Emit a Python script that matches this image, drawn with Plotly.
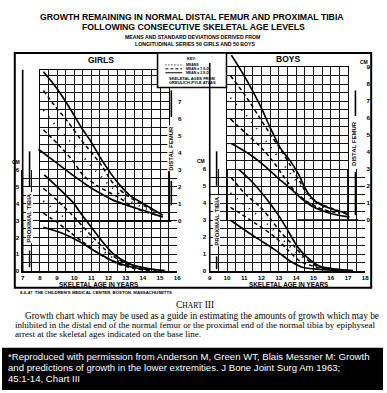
import plotly.graph_objects as go

W, H = 387, 393
SANS = "Liberation Sans, Arial, sans-serif"
SERIF = "Liberation Serif, Times New Roman, serif"

# ---------------- data ----------------
AGES_GIRLS = [7, 8, 9, 10, 11, 12, 13, 14, 15, 16]
AGES_BOYS = [9, 10, 11, 12, 13, 14, 15, 16, 17, 18]
TIBIA_CM = [0, 1, 2, 3, 4, 5, 6]
FEMUR_CM_GIRLS = [0, 1, 2, 3, 4, 5, 6, 7]
FEMUR_CM_BOYS = [0, 1, 2, 3, 4, 5, 6, 7, 8, 9]

# Girls distal femur
GF_P2_AGE = [8.21, 8.95, 9.64, 10.39, 10.97, 11.54, 12.11, 12.69, 13.26, 14.01, 15.16]
GF_P2_CM = [8.74, 7.82, 6.78, 5.52, 4.66, 3.68, 2.82, 2.07, 1.49, 1.03, 0.34]
GF_P1_AGE = [8.21, 8.84, 9.64, 10.39, 11.54, 12.29, 13.09, 13.84, 14.82]
GF_P1_CM = [7.64, 6.78, 5.80, 4.77, 3.33, 2.18, 1.49, 1.03, 0.52]
GF_M_AGE = [8.21, 9.0, 10.0, 11.0, 12.0, 13.0, 14.0, 15.0]
GF_M_CM = [6.5, 5.5, 4.4, 3.2, 2.15, 1.3, 0.8, 0.37]
GF_M1_AGE = [8.21, 9.07, 9.93, 10.56, 11.54, 12.69, 13.44, 14.82]
GF_M1_CM = [5.34, 4.48, 3.51, 2.64, 1.95, 1.32, 0.80, 0.34]
GF_M2_AGE = [7.92, 8.84, 9.82, 10.79, 11.54, 12.29, 13.09, 14.01, 15.16]
GF_M2_CM = [4.20, 3.51, 2.76, 2.07, 1.61, 1.21, 0.92, 0.63, 0.23]

# Girls proximal tibia
GT_P2_AGE = [8.26, 9.24, 9.98, 10.38, 11.0, 11.6, 12.3, 13.3, 14.5, 15.3]
GT_P2_CM = [5.70, 4.77, 4.01, 3.43, 2.6, 1.8, 1.0, 0.4, 0.12, 0.04]
GT_P1_AGE = [8.2, 9.0, 10.0, 11.0, 12.0, 13.0, 14.0, 15.0]
GT_P1_CM = [4.9, 4.2, 3.2, 2.1, 1.1, 0.45, 0.15, 0.05]
GT_M_AGE = [8.2, 9.0, 10.0, 11.0, 12.0, 13.0, 14.0]
GT_M_CM = [4.15, 3.5, 2.7, 1.8, 0.95, 0.4, 0.12]
GT_M1_AGE = [8.2, 9.06, 9.8, 10.56, 11.5, 12.5, 13.5, 14.5]
GT_M1_CM = [3.43, 2.85, 2.27, 1.69, 1.0, 0.45, 0.15, 0.05]
GT_M2_AGE = [8.2, 9.24, 10.4, 11.35, 12.3, 13.4, 14.4]
GT_M2_CM = [2.6, 2.27, 1.69, 1.1, 0.58, 0.23, 0.06]

# Boys distal femur
BF_P2_AGE = [10.25, 10.54, 11.22, 11.91, 12.53, 13.10, 13.67, 14.19, 14.53, 15.04, 15.78, 16.92]
BF_P2_CM = [9.71, 9.25, 8.09, 6.76, 5.38, 4.22, 3.47, 2.60, 1.85, 1.16, 0.75, 0.40]
BF_P1_AGE = [10.20, 11.05, 11.79, 12.48, 13.10, 13.62, 14.19, 14.64, 15.38, 16.35, 17.09]
BF_P1_CM = [8.50, 7.34, 6.18, 5.09, 4.16, 3.29, 2.31, 1.56, 0.98, 0.58, 0.29]
BF_M_AGE = [10.2, 11.0, 12.0, 13.0, 14.0, 15.0, 16.0, 17.0]
BF_M_CM = [7.2, 6.3, 5.0, 3.65, 2.3, 1.1, 0.6, 0.3]
BF_M1_AGE = [10.20, 11.11, 11.91, 12.65, 13.33, 13.90, 14.53, 15.38, 16.52]
BF_M1_CM = [5.95, 5.09, 4.34, 3.47, 2.49, 1.73, 1.16, 0.69, 0.40]
BF_M2_AGE = [10.25, 11.22, 12.19, 12.93, 13.62, 14.24, 15.04, 15.95, 17.09]
BF_M2_CM = [4.51, 3.93, 3.18, 2.49, 1.91, 1.33, 0.75, 0.40, 0.17]

# Boys proximal tibia
BT_P2_AGE = [10.25, 11.39, 12.36, 13.05, 13.50, 14.07, 14.64, 15.38, 16.35, 17.3]
BT_P2_CM = [6.36, 5.32, 4.16, 3.18, 2.43, 1.45, 0.81, 0.29, 0.12, 0.03]
BT_P1_AGE = [10.25, 11.1, 11.9, 12.5, 13.1, 13.9, 14.5, 15.2, 16.2, 17.0]
BT_P1_CM = [5.5, 4.5, 3.8, 3.1, 2.3, 1.45, 0.8, 0.3, 0.1, 0.03]
BT_M_AGE = [10.2, 11.0, 12.0, 13.0, 14.0, 15.0, 16.0]
BT_M_CM = [4.6, 3.9, 3.1, 2.1, 1.1, 0.4, 0.1]
BT_M1_AGE = [10.2, 11.62, 12.76, 13.5, 14.24, 15.2, 16.2]
BT_M1_CM = [3.76, 2.83, 2.02, 1.27, 0.58, 0.23, 0.06]
BT_M2_AGE = [10.2, 11.62, 12.76, 13.67, 14.36, 15.4, 16.5]
BT_M2_CM = [3.0, 2.02, 1.27, 0.58, 0.23, 0.1, 0.03]

# ---------------- pixel helpers ----------------
def fx(p):
    return p / W

def fy(p):
    return 1 - p / H

# scales (pixel positions of the scanned grids)
G_X0, G_SX = 21.0, 17.44      # girls: age 7 at x=21
B_X0, B_SX = 211.0, 17.55     # boys: age 9 at x=211
GT_Y0, GT_SY = 272.0, 17.2
GF_Y0, GF_SY = 221.0, 17.4
BT_Y0, BT_SY = 272.0, 17.3
BF_Y0, BF_SY = 220.0, 17.3

GRID = "#111111"
TICKFONT = dict(family=SANS, size=6.2, color="black", weight="bold")

def grid_axis(**kw):
    d = dict(showgrid=True, gridcolor=GRID, gridwidth=1, zeroline=False,
             showline=True, linecolor="black", linewidth=1.2, mirror=True,
             ticks="", fixedrange=True, tick0=0, dtick=1, tickfont=TICKFONT,
             minor=dict(dtick=0.5, tick0=0, showgrid=True, gridcolor=GRID, gridwidth=1))
    d.update(kw)
    return d

def hidden_axis(**kw):
    d = dict(visible=False, fixedrange=True, showgrid=False, zeroline=False)
    d.update(kw)
    return d

layout = dict(
    width=W, height=H, margin=dict(l=0, r=0, t=0, b=0),
    paper_bgcolor="white", plot_bgcolor="rgba(0,0,0,0)", showlegend=False,
)

# girls tibia grid (x, y)
g_tx = [7, 16]
layout["xaxis"] = grid_axis(range=g_tx, domain=[fx(G_X0), fx(G_X0 + 9 * G_SX)], anchor="y",
                            tickvals=AGES_GIRLS, mirror=False, linewidth=1.8)
layout["yaxis"] = grid_axis(range=[0, 6], domain=[fy(GT_Y0), fy(GT_Y0 - 6 * GT_SY)], anchor="x",
                            tickvals=TIBIA_CM, ticklabelstandoff=1, mirror=False)
# girls femur grid (x2, y2)
layout["xaxis2"] = grid_axis(range=[8, 15.5], domain=[fx(G_X0 + 1 * G_SX), fx(G_X0 + 8.5 * G_SX)],
                             anchor="y2", showticklabels=False)
layout["yaxis2"] = grid_axis(range=[0, 8.85], domain=[fy(GF_Y0), fy(GF_Y0 - 8.85 * GF_SY)], anchor="x2",
                             side="right", tickvals=FEMUR_CM_GIRLS, ticklabelstandoff=7)
# boys tibia grid (x3, y3)
layout["xaxis3"] = grid_axis(range=[9, 18], domain=[fx(B_X0), fx(B_X0 + 9 * B_SX)], anchor="y3",
                             tickvals=AGES_BOYS, mirror=False, linewidth=1.8)
layout["yaxis3"] = grid_axis(range=[0, 6], domain=[fy(BT_Y0), fy(BT_Y0 - 6 * BT_SY)], anchor="x3",
                             tickvals=TIBIA_CM, ticklabelstandoff=1, mirror=False)
# boys femur grid (x4, y4)
layout["xaxis4"] = grid_axis(range=[10, 17], domain=[fx(B_X0 + 1 * B_SX), fx(B_X0 + 8 * B_SX)],
                             anchor="y4", showticklabels=False)
layout["yaxis4"] = grid_axis(range=[0, 9], domain=[fy(BF_Y0), fy(BF_Y0 - 9 * BF_SY)], anchor="x4",
                             side="right", tickvals=FEMUR_CM_BOYS, ticklabelstandoff=16)

# curve axes (hidden, same scales, drawn on top of all grids)
layout["xaxis5"] = hidden_axis(range=g_tx, domain=[fx(G_X0), fx(G_X0 + 9 * G_SX)], anchor="y5")
layout["yaxis5"] = hidden_axis(range=[0, 6], domain=[fy(GT_Y0), fy(GT_Y0 - 6 * GT_SY)], anchor="x5")
layout["xaxis6"] = hidden_axis(range=g_tx, domain=[fx(G_X0), fx(G_X0 + 9 * G_SX)], anchor="y6")
layout["yaxis6"] = hidden_axis(range=[0, 9], domain=[fy(GF_Y0), fy(GF_Y0 - 9 * GF_SY)], anchor="x6")
layout["xaxis7"] = hidden_axis(range=[9, 18], domain=[fx(B_X0), fx(B_X0 + 9 * B_SX)], anchor="y7")
layout["yaxis7"] = hidden_axis(range=[0, 6], domain=[fy(BT_Y0), fy(BT_Y0 - 6 * BT_SY)], anchor="x7")
layout["xaxis8"] = hidden_axis(range=[9, 18], domain=[fx(B_X0), fx(B_X0 + 9 * B_SX)], anchor="y8")
layout["yaxis8"] = hidden_axis(range=[0, 10], domain=[fy(BF_Y0), fy(BF_Y0 - 10 * BF_SY)], anchor="x8")

fig = go.Figure(layout=layout)

# empty traces so that the grid subplots render
for xa, ya in [("x", "y"), ("x2", "y2"), ("x3", "y3"), ("x4", "y4")]:
    fig.add_trace(go.Scatter(x=[None], y=[None], xaxis=xa, yaxis=ya, mode="lines", hoverinfo="skip"))

STYLES = {
    "p2": dict(color="black", width=1.7),
    "p1": dict(color="black", width=1.5, dash="4px,3px"),
    "m": dict(color="black", width=1.8, dash="1px,7px"),
    "m1": dict(color="black", width=1.5, dash="4px,3px"),
    "m2": dict(color="black", width=1.7),
}

series = [
    ("x6", "y6", [(GF_P2_AGE, GF_P2_CM, "p2"), (GF_P1_AGE, GF_P1_CM, "p1"), (GF_M_AGE, GF_M_CM, "m"),
                  (GF_M1_AGE, GF_M1_CM, "m1"), (GF_M2_AGE, GF_M2_CM, "m2")]),
    ("x5", "y5", [(GT_P2_AGE, GT_P2_CM, "p2"), (GT_P1_AGE, GT_P1_CM, "p1"), (GT_M_AGE, GT_M_CM, "m"),
                  (GT_M1_AGE, GT_M1_CM, "m1"), (GT_M2_AGE, GT_M2_CM, "m2")]),
    ("x8", "y8", [(BF_P2_AGE, BF_P2_CM, "p2"), (BF_P1_AGE, BF_P1_CM, "p1"), (BF_M_AGE, BF_M_CM, "m"),
                  (BF_M1_AGE, BF_M1_CM, "m1"), (BF_M2_AGE, BF_M2_CM, "m2")]),
    ("x7", "y7", [(BT_P2_AGE, BT_P2_CM, "p2"), (BT_P1_AGE, BT_P1_CM, "p1"), (BT_M_AGE, BT_M_CM, "m"),
                  (BT_M1_AGE, BT_M1_CM, "m1"), (BT_M2_AGE, BT_M2_CM, "m2")]),
]
for xa, ya, curves in series:
    for ages, cms, key in curves:
        fig.add_trace(go.Scatter(x=ages, y=cms, xaxis=xa, yaxis=ya, mode="lines",
                                 line=dict(shape="spline", smoothing=0.8, **STYLES[key]),
                                 hoverinfo="skip"))

# ---------------- text ----------------
def ann(x, y, text, size, bold=True, family=SANS, color="black", xanchor="center", angle=0, bg=None):
    d = dict(x=fx(x), y=fy(y), xref="paper", yref="paper", text=text, showarrow=False,
             font=dict(family=family, size=size, color=color, weight="bold" if bold else "normal"),
             xanchor=xanchor, yanchor="middle", textangle=angle, borderpad=0)
    if bg:
        d["bgcolor"] = bg
    return d

anns = [
    ann(193, 13, "GROWTH REMAINING IN NORMAL DISTAL FEMUR AND PROXIMAL TIBIA", 8.7),
    ann(195, 23, "FOLLOWING CONSECUTIVE SKELETAL AGE LEVELS", 8.7),
    ann(193, 34, "MEANS AND STANDARD DEVIATIONS DERIVED FROM", 5.2),
    ann(196, 41, "LONGITUDINAL SERIES 50 GIRLS AND 50 BOYS", 5.2),
    ann(101, 57, "GIRLS", 8.5),
    ann(291, 56, "BOYS", 8.5),
    ann(192, 55, "KEY:", 4),
    ann(186, 62, "MEANS", 3.5, xanchor="left"),
    ann(186, 66, "MEAN ± 1 S.D.", 3.5, xanchor="left"),
    ann(186, 70, "MEAN ± 2 S.D.", 3.5, xanchor="left"),
    ann(193, 76, "SKELETAL AGES FROM", 4),
    ann(193, 80, "GREULICH-PYLE ATLAS", 4),
    ann(14, 161, "CM", 5),
    ann(202, 160, "CM", 5),
    ann(368, 59, "CM", 5),
    ann(28, 218, "PROXIMAL TIBIA", 6, angle=-90, bg="white"),
    ann(218, 221, "PROXIMAL TIBIA", 6, angle=-90, bg="white"),
    ann(172, 147, "DISTAL FEMUR", 6, angle=-90, bg="white"),
    ann(358, 142, "DISTAL FEMUR", 6, angle=-90, bg="white"),
    ann(98, 285.5, "SKELETAL AGE IN YEARS", 6.3),
    ann(291, 285.5, "SKELETAL AGE IN YEARS", 6.3),
    ann(17, 294, "8-6-47  THE CHILDREN'S MEDICAL CENTER, BOSTON, MASSACHUSETTS", 4.3, xanchor="left"),
    ann(196, 306, "C<span style='font-size:7.5px'>HART</span> III", 9.5, bold=False, family=SERIF),
    ann(22, 318, "Growth chart which may be used as a guide in estimating the amounts of growth which may be",
        9.3, bold=False, family=SERIF, xanchor="left"),
    ann(12, 327, "inhibited in the distal end of the normal femur or the proximal end of the normal tibia by epiphyseal",
        9.0, bold=False, family=SERIF, xanchor="left"),
    ann(12, 336, "arrest at the skeletal ages indicated on the base line.",
        9.0, bold=False, family=SERIF, xanchor="left"),
    ann(5, 359, "*Reproduced with permission from Anderson M, Green WT, Blais Messner M: Growth",
        9.6, bold=False, color="white", xanchor="left"),
    ann(5, 370, "and predictions of growth in the lower extremities. J Bone Joint Surg Am 1963;",
        9.6, bold=False, color="white", xanchor="left"),
    ann(5, 381, "45:1-14, Chart III", 9.6, bold=False, color="white", xanchor="left"),
]

# ---------------- frame / decorations ----------------
def line(x0, y0, x1, y1, w=1.4, dash=None):
    d = dict(type="line", xref="paper", yref="paper", x0=fx(x0), y0=fy(y0), x1=fx(x1), y1=fy(y1),
             line=dict(color="black", width=w))
    if dash:
        d["line"]["dash"] = dash
    return d

shapes = [
    dict(type="rect", xref="paper", yref="paper", x0=fx(13), y0=fy(289), x1=fx(375), y1=fy(50),
         line=dict(color="black", width=2)),
    dict(type="rect", xref="paper", yref="paper", x0=fx(158), y0=fy(85), x1=fx(228), y1=fy(50),
         line=dict(color="black", width=1.5), fillcolor="white", layer="above"),
    line(166, 62, 183, 62, 1, "1px,2px"),
    line(166, 66, 183, 66, 1, "3px,2px"),
    line(166, 70, 183, 70, 1),
    line(21, 67, 21, 272, 1.6),
    line(211, 60, 211, 272, 1.6),
    line(28, 150, 28, 186, 1.6),
    line(28, 251, 28, 268, 1.6),
    line(218, 150, 218, 185, 1.6),
    line(218, 257, 218, 270, 1.6),
    line(172, 88, 172, 115, 1.6),
    line(172, 180, 172, 205, 1.6),
    line(359, 88, 359, 114, 1.6),
    line(359, 171, 359, 215, 1.6),
    # heavier femur base lines on the right part of each panel
    line(108, 221, 172, 221, 1.8),
    line(300, 220, 362, 220, 1.8),
    dict(type="rect", xref="paper", yref="paper", x0=0, y0=0, x1=1, y1=fy(350),
         line=dict(width=0), fillcolor="black", layer="below"),
]

fig.update_layout(annotations=anns, shapes=shapes)

fig.write_html("out.html", config={"displayModeBar": False, "staticPlot": True},
               post_script="document.body.style.margin='0';")
